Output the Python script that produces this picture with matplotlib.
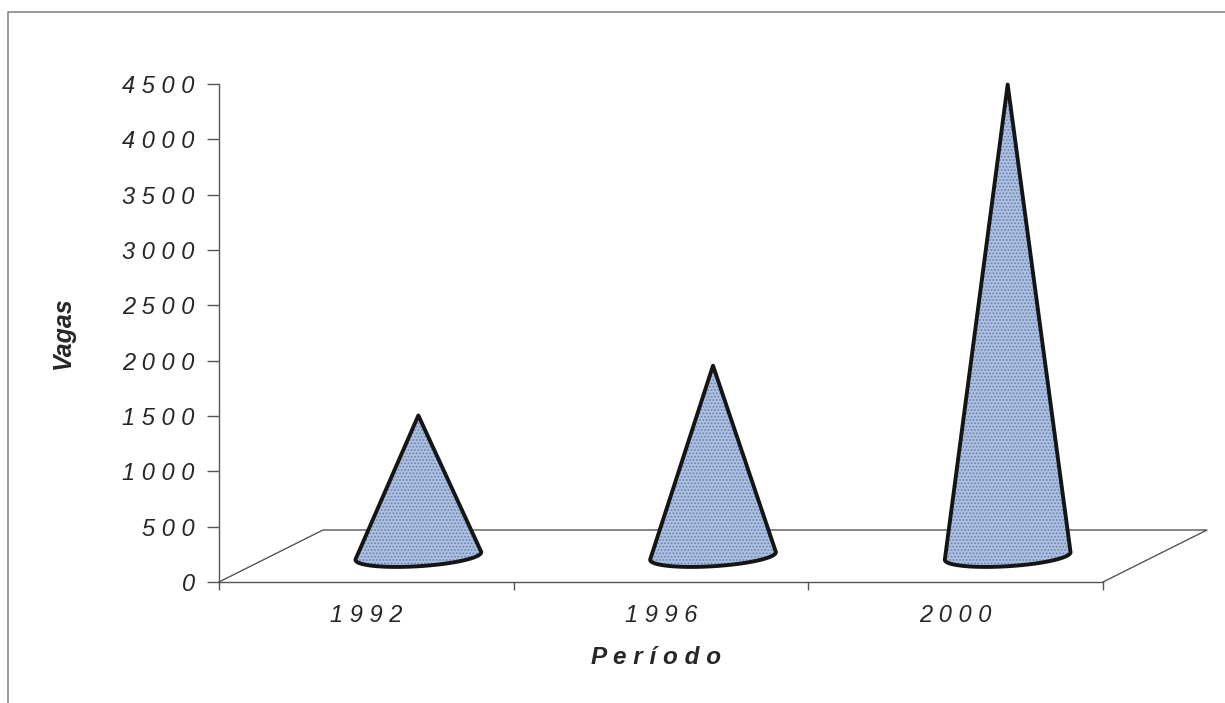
import numpy as np
import matplotlib.pyplot as plt
from matplotlib.patches import Polygon
from matplotlib.lines import Line2D

periodos = ['1992', '1996', '2000']
vagas = [1270, 1720, 4260]
y_ticks = [0, 500, 1000, 1500, 2000, 2500, 3000, 3500, 4000, 4500]

plt.rcParams['font.family'] = ['Liberation Sans', 'DejaVu Sans']
plt.rcParams['hatch.linewidth'] = 0.8

# depth of the 3D floor (in category units / value units) and cone base radius
DX, DY = 0.353, 470
R, RD = 0.2, 0.21
AXIS_COLOR = '#555555'
TEXT_COLOR = '#262626'


def spaced(s):
    return ' '.join(s)


def convex_hull(pts):
    pts = sorted(map(tuple, pts))

    def cross(o, a, b):
        return (a[0] - o[0]) * (b[1] - o[1]) - (a[1] - o[1]) * (b[0] - o[0])

    lower, upper = [], []
    for p in pts:
        while len(lower) >= 2 and cross(lower[-2], lower[-1], p) <= 0:
            lower.pop()
        lower.append(p)
    for p in reversed(pts):
        while len(upper) >= 2 and cross(upper[-2], upper[-1], p) <= 0:
            upper.pop()
        upper.append(p)
    return np.array(lower[:-1] + upper[:-1])


W, H = 1225, 703
fig = plt.figure(figsize=(W / 100, H / 100), dpi=100)
ax = fig.add_axes([219 / W, 121 / H, 884 / W, 498 / H])
ax.set_xlim(0, 3)
ax.set_ylim(0, 4500)
ax.patch.set_alpha(0)

for side in ['top', 'right']:
    ax.spines[side].set_visible(False)
for side in ['left', 'bottom']:
    ax.spines[side].set_color(AXIS_COLOR)
    ax.spines[side].set_linewidth(1)

ax.set_yticks(y_ticks)
ax.set_yticklabels([spaced(str(v)) for v in y_ticks], fontsize=17,
                   style='italic', color=TEXT_COLOR)
ax.tick_params(axis='y', length=8.5, width=1, color=AXIS_COLOR, pad=9)

ax.set_xticks([0, 1, 2, 3])
ax.set_xticklabels([])
ax.tick_params(axis='x', which='major', length=6, width=1, color=AXIS_COLOR)
ax.set_xticks([0.5, 1.5, 2.5], minor=True)
ax.set_xticklabels([spaced(p) for p in periodos], minor=True, fontsize=17,
                   style='italic', color=TEXT_COLOR)
ax.tick_params(axis='x', which='minor', length=0, pad=16)

# floor of the 3D plot
ax.plot([0, DX, 3 + DX, 3], [0, DY, DY, 0], color=AXIS_COLOR, lw=1,
        clip_on=False, zorder=1)

# cones
t = np.linspace(0, 2 * np.pi, 240)
for i, v in enumerate(vagas):
    cx = i + 0.5
    d = 0.5 + RD * np.sin(t)
    bx = cx + R * np.cos(t) + d * DX
    by = d * DY
    apex = (cx + 0.5 * DX, 0.5 * DY + v)
    pts = np.vstack([np.column_stack([bx, by]), [apex]])
    shape = convex_hull(pts)
    ax.add_patch(Polygon(shape, closed=True, facecolor='#adc0de',
                         edgecolor='none', clip_on=False, zorder=3))
    ax.add_patch(Polygon(shape, closed=True, facecolor='none',
                         edgecolor='#6680b4', hatch='.....', lw=0,
                         clip_on=False, zorder=4))
    ax.add_patch(Polygon(shape, closed=True, facecolor='none',
                         edgecolor='#151515', lw=2.8, joinstyle='round',
                         clip_on=False, zorder=5))

fig.text(63 / W, 1 - 333 / H, 'Vagas', rotation=90, fontsize=18,
         weight='bold', style='italic', color=TEXT_COLOR,
         ha='center', va='center')
fig.text(656 / W, 1 - 657 / H, spaced('Período'), fontsize=17.5,
         weight='bold', style='italic', color=TEXT_COLOR,
         ha='center', va='center')

# page frame (left and top edges)
fig.add_artist(Line2D([8 / W, 8 / W, 1], [0, 1 - 12 / H, 1 - 12 / H],
                      color='#888888', lw=1.2))

fig.savefig('out.png', dpi=100)
